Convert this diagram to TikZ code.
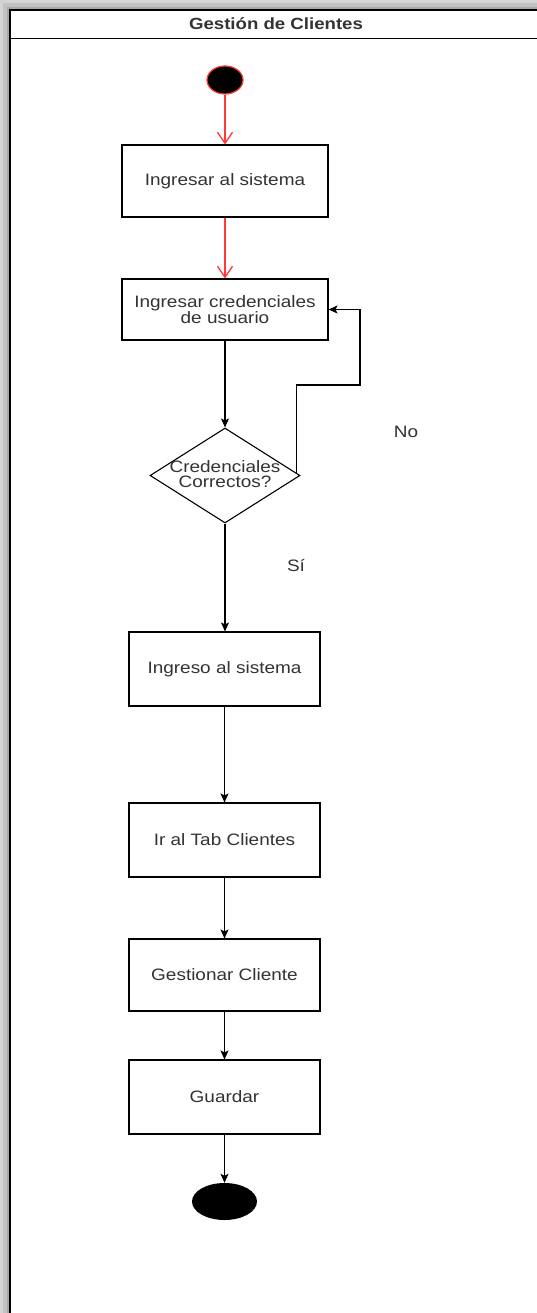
\documentclass[tikz,border=0pt]{standalone}
\usepackage{fontspec}
\setmainfont[FakeStretch=1.15]{Liberation Sans}
\usetikzlibrary{shapes.geometric,arrows.meta,calc}
\definecolor{txt}{HTML}{333333}
\definecolor{startred}{HTML}{FF3838}
\definecolor{shadowouter}{HTML}{D4D4D4}
\definecolor{shadowmid}{HTML}{C2C2C2}
\definecolor{shadowinner}{HTML}{A8A8A8}
\tikzset{
  actbox/.style={draw=black, line width=1.1pt, fill=white, rectangle, inner sep=0pt,
    text=txt, align=center, font=\fontsize{16.5}{16}\selectfont},
  flow/.style={draw=black, line width=1.1pt, -{Stealth[width=8pt,length=9pt,inset=2pt]}},
  redflow/.style={draw=startred, line width=1.3pt, -{Straight Barb[width=15pt,length=11pt]}},
  lbl/.style={text=txt, font=\fontsize{16.5}{16}\selectfont, inner sep=0pt},
}
\begin{document}
\begin{tikzpicture}[x=1pt,y=-1pt]
  \useasboundingbox (0,0) rectangle (537,1313);
  % drop shadow around the pool
  \fill[shadowouter] (0,0) rectangle (537,10);
  \fill[shadowouter] (0,0) rectangle (10,1313);
  \fill[shadowmid] (3,3) rectangle (537,10);
  \fill[shadowmid] (3,3) rectangle (10,1313);
  \fill[shadowinner] (7,7) rectangle (537,10);
  \fill[shadowinner] (7,7) rectangle (10,1313);
  % pool frame with title bar
  \fill[white] (10,10) rectangle (537,1313);
  \draw[line width=1.5pt] (10,1313) -- (10,10) -- (537,10);
  \draw[line width=1.1pt] (10,38.5) -- (537,38.5);
  \node[text=txt, font=\fontsize{16.2}{16}\selectfont\bfseries, inner sep=0pt] (title) at (276,24) {Gestión de Clientes};

  % start and end states
  \node[ellipse, draw=startred, line width=1.2pt, fill=black, minimum width=36pt, minimum height=28pt, inner sep=0pt] (start) at (225,80) {};
  \node[ellipse, fill=black, minimum width=65pt, minimum height=37pt, inner sep=0pt] (end) at (224.5,1201.5) {};

  % activities
  \node[actbox, minimum width=206pt, minimum height=72pt] (b1) at (225,181) {Ingresar al sistema};
  \node[actbox, minimum width=206pt, minimum height=61pt] (b2) at (225,309.5) {Ingresar credenciales\\[0pt]de usuario};
  \node[diamond, draw=black, line width=1.1pt, minimum width=150pt, minimum height=95pt, inner sep=0pt] (dia) at (225,475.5) {};
  \node[lbl, align=center, font=\fontsize{16.5}{15.5}\selectfont] (dialbl) at (225,474) {Credenciales\\Correctos?};
  \node[actbox, minimum width=191pt, minimum height=74pt] (b3) at (224.5,669) {Ingreso al sistema};
  \node[actbox, minimum width=191pt, minimum height=74pt] (b4) at (224.5,840) {Ir al Tab Clientes};
  \node[actbox, minimum width=191pt, minimum height=72pt] (b5) at (224.5,975) {Gestionar Cliente};
  \node[actbox, minimum width=191pt, minimum height=74pt] (b6) at (224.5,1097) {Guardar};

  % branch labels
  \node[lbl] (no) at (406,432) {No};
  \node[lbl] (si) at (296,566) {Sí};

  % transitions
  \draw[redflow] (start) -- (b1.north);
  \draw[redflow] (b1.south) -- (b2.north);
  \draw[flow] (b2.south) -- (dia.north);
  \draw[flow] (dia.south) -- (b3.north -| dia.south);
  \draw[flow] (b3.south) -- (b4.north);
  \draw[flow] (b4.south) -- (b5.north);
  \draw[flow] (b5.south) -- (b6.north);
  \draw[flow] (b6.south) -- (end.north);

  % retry loop back to the credentials step
  \coordinate (lp) at ($(dia.north)!0.95!(dia.east)$);
  \coordinate (knee) at (360,385);
  \draw[flow] (lp) |- (knee) |- (b2.east);
\end{tikzpicture}
\end{document}
